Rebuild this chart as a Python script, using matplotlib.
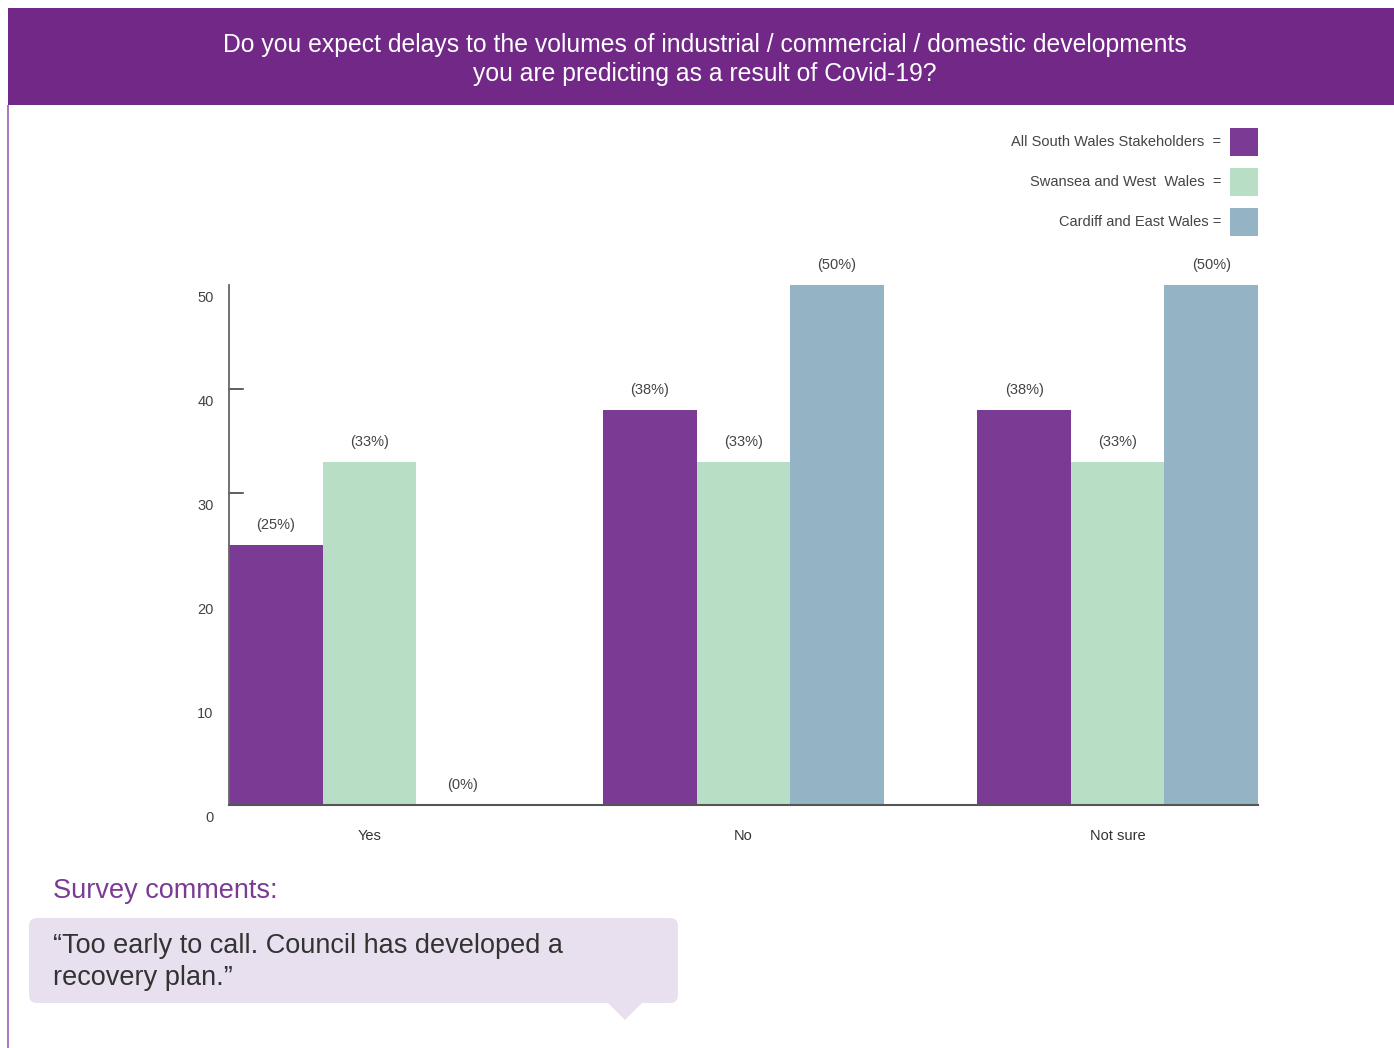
import matplotlib.pyplot as plt
import matplotlib.transforms as mtransforms
from matplotlib.patches import Rectangle, FancyBboxPatch, Polygon
import numpy as np

plt.rcParams['font.family'] = ['Liberation Sans', 'DejaVu Sans']

categories = ['Yes', 'No', 'Not sure']
series_names = ['All South Wales Stakeholders  =',
                'Swansea and West  Wales  =',
                'Cardiff and East Wales =']
all_south_wales = [25, 38, 38]
swansea_west = [33, 33, 33]
cardiff_east = [0, 50, 50]
yticks = [0, 10, 20, 30, 40, 50]
tick_marks = [30, 40]

title = ('Do you expect delays to the volumes of industrial / commercial / domestic developments\n'
         'you are predicting as a result of Covid-19?')
comment = '\u201cToo early to call. Council has developed a\nrecovery plan.\u201d'

PURPLE = '#7b3b94'
GREEN = '#b8dfc6'
BLUE = '#94b4c6'
HEADER = '#712887'
TXT = '#444444'

W, H = 1394, 1048
fig = plt.figure(figsize=(W / 100, H / 100), dpi=100)
inch = fig.dpi_scale_trans


def px(x, y):
    # pixel position measured from the top-left corner -> inches
    return x / 100, (H - y) / 100


# header band and left rule
x0, y0 = px(8, 105)
fig.add_artist(Rectangle((x0, y0), (W - 8) / 100, 97 / 100, transform=inch,
                         facecolor=HEADER, edgecolor='none'))
fig.add_artist(Rectangle(px(7, H), 2 / 100, (H - 105) / 100, transform=inch,
                         facecolor='#a77bbb', edgecolor='none'))
fig.text(*px(705, 59.5), title, transform=inch, ha='center', va='center',
         color='white', fontsize=17.8, linespacing=1.27)

# legend
colors = [PURPLE, GREEN, BLUE]
for i, (name, c) in enumerate(zip(series_names, colors)):
    yc = 142 + 40 * i
    fig.text(*px(1221, yc), name, transform=inch, ha='right', va='center',
             color=TXT, fontsize=10.5)
    fig.add_artist(Rectangle(px(1230, yc + 14), 0.28, 0.28, transform=inch,
                             facecolor=c, edgecolor='none'))

# bar chart
ax = fig.add_axes([229 / W, 1 - 805 / H, (1258 - 229) / W, (805 - 285) / H])
centers = np.arange(len(categories)) * 4
for k, (vals, c) in enumerate(zip([all_south_wales, swansea_west, cardiff_east], colors)):
    xs = centers + (k - 1)
    bars = ax.bar(xs, vals, width=1.0, color=c, edgecolor='none', zorder=2)
    for b, v in zip(bars, vals):
        ax.annotate('(%d%%)' % v, (b.get_x() + b.get_width() / 2, v),
                    xytext=(0, 9), textcoords='offset points',
                    ha='center', va='bottom', fontsize=10.5, color=TXT)

ax.set_xlim(-1.5, 9.5)
ax.set_ylim(0, 50)
ax.set_xticks(centers)
ax.set_xticklabels(categories, fontsize=10.5, color='#333333')
ax.set_yticks(yticks)
ax.set_yticklabels([str(t) for t in yticks], fontsize=10.5, color=TXT)
ax.tick_params(axis='both', which='major', length=0)
ax.tick_params(axis='x', pad=17)
ax.tick_params(axis='y', pad=11)
shift = mtransforms.ScaledTranslation(0, -12 / 100, inch)
for lab in ax.get_yticklabels():
    lab.set_transform(lab.get_transform() + shift)

# short inward tick marks on the left axis
yaxis_trans = ax.get_yaxis_transform()
tick_len = 14 / (1258 - 229)
for v in tick_marks:
    ax.plot([0, tick_len], [v, v], transform=yaxis_trans, color='#333333',
            lw=1.1, zorder=1, clip_on=False)

for s in ['top', 'right']:
    ax.spines[s].set_visible(False)
ax.spines['left'].set_color('#666666')
ax.spines['left'].set_linewidth(1.3)
ax.spines['bottom'].set_color('#555555')
ax.spines['bottom'].set_linewidth(1.5)
ax.spines['bottom'].set_zorder(3)

# survey comments
fig.text(*px(53, 891), 'Survey comments:', transform=inch, ha='left', va='center',
         color=PURPLE, fontsize=19.5)
bx, by = px(29, 1003)
fig.add_artist(FancyBboxPatch((bx, by), (678 - 29) / 100, (1003 - 918) / 100,
                              boxstyle='round,pad=0,rounding_size=0.08',
                              transform=inch, facecolor='#e8e0ef', edgecolor='none'))
fig.add_artist(Polygon([px(608, 1003), px(642, 1003), px(625, 1020)], closed=True,
                       transform=inch, facecolor='#e8e0ef', edgecolor='none'))
fig.text(*px(53, 962), comment, transform=inch, ha='left', va='center',
         color='#333333', fontsize=19.5, linespacing=1.32)

fig.savefig('out.png', dpi=100)
